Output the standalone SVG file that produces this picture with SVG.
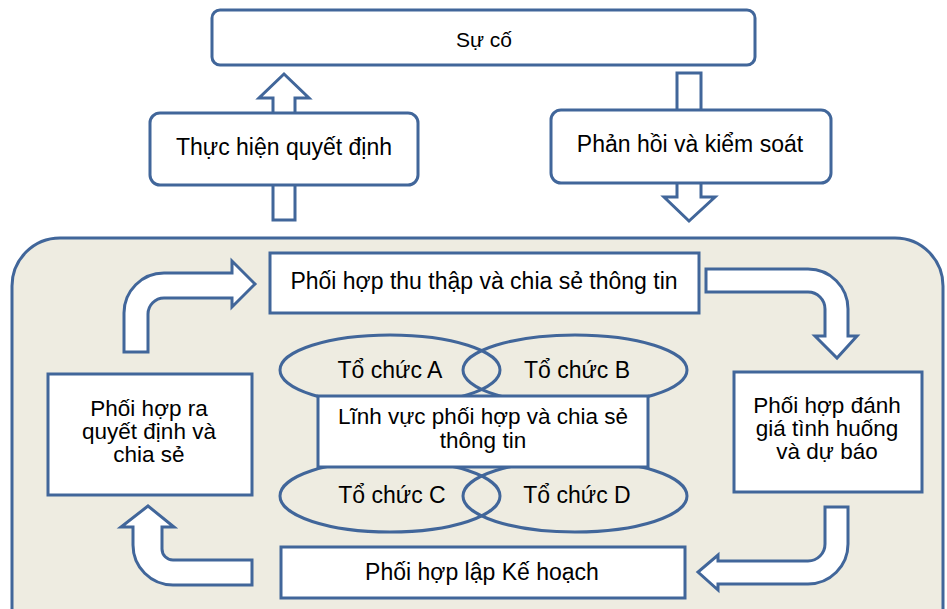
<svg xmlns="http://www.w3.org/2000/svg" width="947" height="609" viewBox="0 0 947 609">
<style>
.s{stroke:#41669a;stroke-width:3;}
.w{fill:#ffffff;}
.t{font-family:"Liberation Sans",Arial,sans-serif;fill:#000;text-anchor:middle;font-size:23px;}
.f21{font-size:21px;}
.f22{font-size:22.5px;}
</style>
<rect width="947" height="609" fill="#ffffff"/>
<g id="container"><rect class="s" x="12" y="238" width="931" height="420" rx="48" fill="#eeece1"/></g>
<g id="connectors">
<path class="s w" d="M273,220 L273,98 L259,98 L284,74 L309,98 L295,98 L295,220 Z"/>
<path class="s w" d="M677,73 L701,73 L701,197 L715,197 L689,221 L664,197 L677,197 Z"/>
<path class="s w" d="M124,352 L124,313 A40,40 0 0 1 164,273 L232,273 L232,261 L255,284 L232,307 L232,298 L164,298 A16,16 0 0 0 148,314 L148,352 Z"/>
<path class="s w" d="M706,269 L808,269 A40,40 0 0 1 848,309 L848,336 L857,336 L837,358 L815,336 L825,336 L825,309 A17,17 0 0 0 808,292 L706,292 Z"/>
<path class="s w" d="M825,507 L848,507 L848,544 A40,40 0 0 1 808,584 L718,584 L718,590 L698,572 L718,555 L718,561 L808,561 A17,17 0 0 0 825,544 Z"/>
<path class="s w" d="M148,506 L174,527 L162,527 L162,549 A11,11 0 0 0 173,560 L252,560 L252,585 L173,585 A40,40 0 0 1 133,545 L133,527 L121,527 Z"/>
</g>
<g id="su-co"><rect class="s w" x="212" y="10" width="543" height="55" rx="8"/><text class="t f21" x="484" y="47">Sự cố</text></g>
<g id="thuc-hien"><rect class="s w" x="150" y="113" width="268" height="72" rx="10"/><text class="t" x="284" y="155">Thực hiện quyết định</text></g>
<g id="phan-hoi"><rect class="s w" x="551" y="110" width="280" height="73" rx="10"/><text class="t" x="690" y="152">Phản hồi và kiểm soát</text></g>
<g id="thu-thap"><rect class="s w" x="270" y="253" width="429" height="60"/><text class="t" x="484" y="289">Phối hợp thu thập và chia sẻ thông tin</text></g>
<g id="ra-quyet-dinh"><rect class="s w" x="48" y="374" width="204" height="121"/><text class="t f22" x="149" y="416">Phối hợp ra</text><text class="t f22" x="149" y="439">quyết định và</text><text class="t f22" x="149" y="462">chia sẻ</text></g>
<g id="danh-gia"><rect class="s w" x="734" y="372" width="188" height="120"/><text class="t f22" x="827" y="413">Phối hợp đánh</text><text class="t f22" x="827" y="436">giá tình huống</text><text class="t f22" x="827" y="459">và dự báo</text></g>
<g id="to-chuc-a"><ellipse class="s" cx="390" cy="370" rx="110" ry="35" fill="none"/><text class="t" x="390" y="378">Tổ chức A</text></g>
<g id="to-chuc-b"><ellipse class="s" cx="575" cy="370" rx="112" ry="35" fill="none"/><text class="t" x="577" y="378">Tổ chức B</text></g>
<g id="to-chuc-c"><ellipse class="s" cx="390" cy="496" rx="110" ry="36" fill="none"/><text class="t" x="392" y="503">Tổ chức C</text></g>
<g id="to-chuc-d"><ellipse class="s" cx="575" cy="496" rx="112" ry="36" fill="none"/><text class="t" x="577" y="503">Tổ chức D</text></g>
<g id="linh-vuc"><rect class="s w" x="318" y="396" width="330" height="71"/><text class="t f22" x="483" y="424">Lĩnh vực phối hợp và chia sẻ</text><text class="t f22" x="483" y="448">thông tin</text></g>
<g id="ke-hoach"><rect class="s w" x="281" y="547" width="404" height="51"/><text class="t" x="482" y="580">Phối hợp lập Kế hoạch</text></g>
</svg>
